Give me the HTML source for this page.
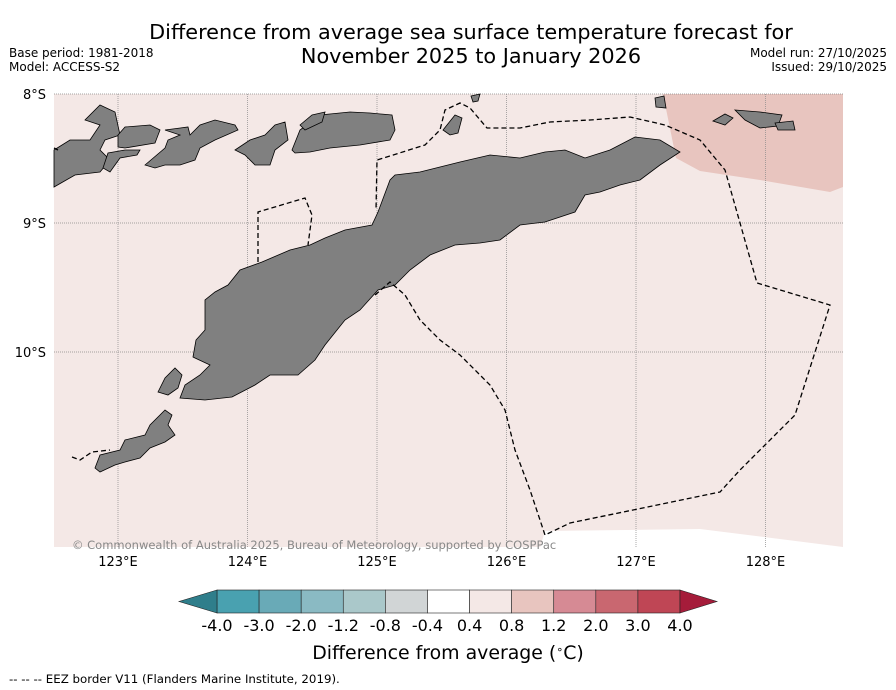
<!DOCTYPE html>
<html><head><meta charset="utf-8"><style>
body{margin:0;background:#fff;width:896px;height:690px;overflow:hidden;font-family:"DejaVu Sans","Liberation Sans",sans-serif}
svg{position:absolute;left:0;top:0}
</style></head><body>
<svg width="896" height="690" id="fig">
<text x="471" y="39" text-anchor="middle" font-size="20.8">Difference from average sea surface temperature forecast for</text>
<text x="471" y="63" text-anchor="middle" font-size="20.8">November 2025 to January 2026</text>
<text x="9" y="57" font-size="12">Base period: 1981-2018</text>
<text x="9" y="71" font-size="12">Model: ACCESS-S2</text>
<text x="887" y="57" font-size="12" text-anchor="end">Model run: 27/10/2025</text>
<text x="887" y="71" font-size="12" text-anchor="end">Issued: 29/10/2025</text>
<g id="map"></g>
<g id="cbar"></g>
<text x="448" y="659" text-anchor="middle" font-size="18.9">Difference from average (<tspan baseline-shift="super" font-size="11">∘</tspan>C)</text>
<text x="9" y="683" font-size="11.8">--  --  -- EEZ border V11 (Flanders Marine Institute, 2019).</text>
</svg>
<script>
const levels=["-4.0","-3.0","-2.0","-1.2","-0.8","-0.4","0.4","0.8","1.2","2.0","3.0","4.0"];
const levelColors=["#49a1b0","#69aab7","#8abac3","#aac8ca","#d1d5d6","#ffffff","#f4e8e6","#e8c5bf","#d68a94","#c96770","#bf4655"];
const extendColors=["#2f7e8b","#a51c3a"];
const lonTicks=[123,124,125,126,127,128];
const latTicks=[-8,-9,-10];
const NS="http://www.w3.org/2000/svg";
const X0=54,X1=843,Y0=94,Y1=547;
function px(lon){return 118+(lon-123)*129.5;}
function py(lat){return 94+(-8-lat)*129;}
function mk(t,a,p){const e=document.createElementNS(NS,t);for(const k in a)e.setAttribute(k,a[k]);(p||map).appendChild(e);return e;}
const map=document.getElementById('map');
const cb=document.getElementById('cbar');
let bg=mk('rect',{x:X0,y:Y0,width:X1-X0,height:Y1-Y0,fill:'#f4e8e6'});


let hi=mk('polygon',{points:'663,94 843,94 843,187 830,192 760,180 700,171 676,158',fill:'#e8c5bf'});


let wh=mk('polygon',{points:'545,531 700,529 843,547 843,548 540,548',fill:'#ffffff'});


lonTicks.forEach(l=>{let g=mk('line',{x1:px(l),x2:px(l),y1:Y0,y2:Y1,stroke:'#888','stroke-width':0.7,'stroke-dasharray':'1,1'});

let t=mk('text',{x:px(l),y:566,'font-size':13,'text-anchor':'middle'});t.textContent=l+'°E';
});
latTicks.forEach(l=>{let g=mk('line',{x1:X0,x2:X1,y1:py(l),y2:py(l),stroke:'#888','stroke-width':0.7,'stroke-dasharray':'1,1'});

let t=mk('text',{x:46,y:py(l)+5,'font-size':13,'text-anchor':'end'});t.textContent=(-l)+'°S';
});
const islands=[
"193,357 196,340 205,330 205,300 215,292 228,285 240,270 262,262 290,250 310,245 325,238 345,230 372,225 378,212 390,180 395,175 420,172 460,162 490,155 520,158 545,152 565,150 585,158 610,150 635,137 660,140 680,152 660,165 640,180 620,185 600,192 585,195 575,212 545,222 520,225 500,240 480,243 455,245 430,255 410,270 395,285 378,290 360,310 345,320 325,345 315,360 298,375 270,375 255,385 232,397 205,400 180,398 185,385 200,375 210,365 195,358",
"54,150 70,140 90,140 100,125 85,120 100,105 115,112 120,135 105,140 100,150 110,160 100,172 75,175 54,187",
"118,135 125,127 150,125 160,130 155,143 125,148 118,147",
"103,168 108,153 125,150 140,150 137,155 120,158 110,172",
"145,165 165,148 168,140 180,135 165,130 188,127 190,135 200,125 215,120 235,125 238,130 215,140 200,148 195,160 180,165 165,165 155,168",
"235,150 250,140 265,135 275,125 285,122 288,140 275,150 270,165 255,165 245,155",
"292,150 300,130 320,115 350,112 370,113 392,115 395,130 390,140 360,145 330,148 310,152 295,153",
"300,125 312,115 325,112 322,122 305,130",
"443,130 455,115 462,118 458,133 450,135",
"471,96 480,94 478,101 473,102",
"95,468 100,455 120,450 125,440 145,435 150,425 165,410 172,415 168,425 175,435 165,442 150,448 140,458 125,462 115,465 100,472",
"158,392 165,378 175,368 182,375 178,388 168,395",
"655,98 664,96 666,108 656,107",
"713,121 725,114 733,118 725,125",
"735,110 760,112 782,115 778,126 760,128 745,120",
"775,123 793,121 795,130 778,130"];
islands.forEach((p,i)=>{let e=mk('polygon',{points:p,fill:'#808080',stroke:'#000','stroke-width':0.8});
});
const eez=["258,262 258,212 305,198 312,215 308,245",
"375,295 390,282 405,295 420,320 440,340 460,355 490,385 505,410 515,450 530,490 545,535 570,523 720,492 740,470 765,445 795,415 830,305 757,283 742,230 725,170 700,140 665,125 630,117 590,120 550,122 520,128 487,128 470,108 460,103 445,110 440,130 425,145 377,160 376,210",
"72,457 80,460 92,452 110,450","54,148 58,150"];
eez.forEach(p=>{let e=mk('polyline',{points:p,fill:'none',stroke:'#000','stroke-width':1.3,'stroke-dasharray':'5,3'});
});
let cp=mk('text',{x:72,y:549,'font-size':11.5,fill:'#888'});cp.textContent='© Commonwealth of Australia 2025, Bureau of Meteorology, supported by COSPPac';

const CX0=217,CX1=680,CY0=590,CY1=613,n=levelColors.length,w=(CX1-CX0)/n;
levelColors.forEach((c,i)=>{let r=mk('rect',{x:CX0+i*w,y:CY0,width:w,height:CY1-CY0,fill:c,stroke:'#222','stroke-width':0.6},cb);
});
let tl=mk('polygon',{points:`${CX0},${CY0} 179,${(CY0+CY1)/2} ${CX0},${CY1}`,fill:extendColors[0],stroke:'#222','stroke-width':0.6},cb);

let tr=mk('polygon',{points:`${CX1},${CY0} 717,${(CY0+CY1)/2} ${CX1},${CY1}`,fill:extendColors[1],stroke:'#222','stroke-width':0.6},cb);

levels.forEach((l,i)=>{let t=mk('text',{x:CX0+i*w,y:631,'font-size':16,'text-anchor':'middle'},cb);t.textContent=l;
});
</script>
</body></html>
